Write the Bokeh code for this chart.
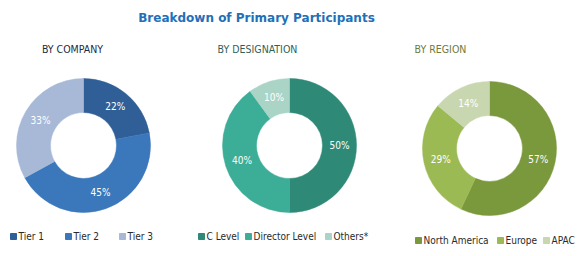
import math
from bokeh.plotting import figure
from bokeh.models import ColumnDataSource
from bokeh.core.properties import value
from bokeh.embed import file_html
from bokeh.resources import INLINE

title = "Breakdown of Primary Participants"

company_labels = ["Tier 1", "Tier 2", "Tier 3"]
company_values = [22, 45, 33]
company_colors = ["#2f5f96", "#3a77bb", "#a7b9d7"]

designation_labels = ["C Level", "Director Level", "Others*"]
designation_values = [50, 40, 10]
designation_colors = ["#2e8a76", "#3cad97", "#a9d4c6"]

region_labels = ["North America", "Europe", "APAC"]
region_values = [57, 29, 14]
region_colors = ["#7a983c", "#9cba53", "#c9d7b0"]

W, H = 581, 256
p = figure(width=W, height=H, x_range=(0, W), y_range=(0, H),
           output_backend="svg", toolbar_location=None, min_border=0)
p.axis.visible = False
p.grid.visible = False
p.outline_line_color = None
p.background_fill_color = "white"
p.border_fill_color = "white"

NARROW = "DejaVu Sans Condensed, Liberation Sans"

def Y(py):
    return H - py

p.text([256], [Y(17)], text=[title], text_align="center", text_baseline="middle",
       text_font=value("DejaVu Sans"), text_font_style="bold", text_font_size="12px",
       text_color="#2170b8")

panels = [
    ("BY COMPANY", "#1f2b3c", 72, 83, 145, company_labels, company_values, company_colors,
     [13, 68, 122], 236),
    ("BY DESIGNATION", "#2f5f5a", 257, 289, 145, designation_labels, designation_values, designation_colors,
     [201, 248, 328], 236),
    ("BY REGION", "#6d7b3b", 440, 489, 148, region_labels, region_values, region_colors,
     [418, 500, 546], 240),
]

R_OUT, R_IN = 67, 33
for sub, subcol, sx, cx, cy, labels, vals, cols, lx, ly in panels:
    p.text([sx], [Y(48)], text=[sub], text_align="center", text_baseline="middle",
           text_font=value(NARROW), text_font_size="10.5px", text_color=subcol)
    total = float(sum(vals))
    starts, ends, tx, ty, txt = [], [], [], [], []
    cum = 0.0
    for v in vals:
        a0 = math.pi / 2 - 2 * math.pi * (cum + v) / total
        a1 = math.pi / 2 - 2 * math.pi * cum / total
        starts.append(a0)
        ends.append(a1)
        mid = (a0 + a1) / 2
        rm = (R_OUT + R_IN) / 2
        tx.append(cx + rm * math.cos(mid))
        ty.append(Y(cy) + rm * math.sin(mid))
        txt.append(f"{v}%")
        cum += v
    src = ColumnDataSource(dict(x=[cx] * len(vals), y=[Y(cy)] * len(vals),
                                s=starts, e=ends, c=cols))
    p.annular_wedge(x="x", y="y", inner_radius=R_IN, outer_radius=R_OUT,
                    start_angle="s", end_angle="e", fill_color="c", line_color="c",
                    line_width=0.5, source=src)
    p.text(tx, ty, text=txt, text_align="center", text_baseline="middle",
           text_font=value(NARROW), text_font_size="10px", text_color="white")
    # legend
    p.rect(lx, [Y(ly)] * 3, width=6, height=6, color=cols)
    p.text([x + 5 for x in lx], [Y(ly)] * 3, text=labels, text_align="left", text_baseline="middle",
           text_font=value(NARROW), text_font_size="10px", text_color="#2a2a2a")

open("out.html", "w").write(file_html(p, INLINE))
